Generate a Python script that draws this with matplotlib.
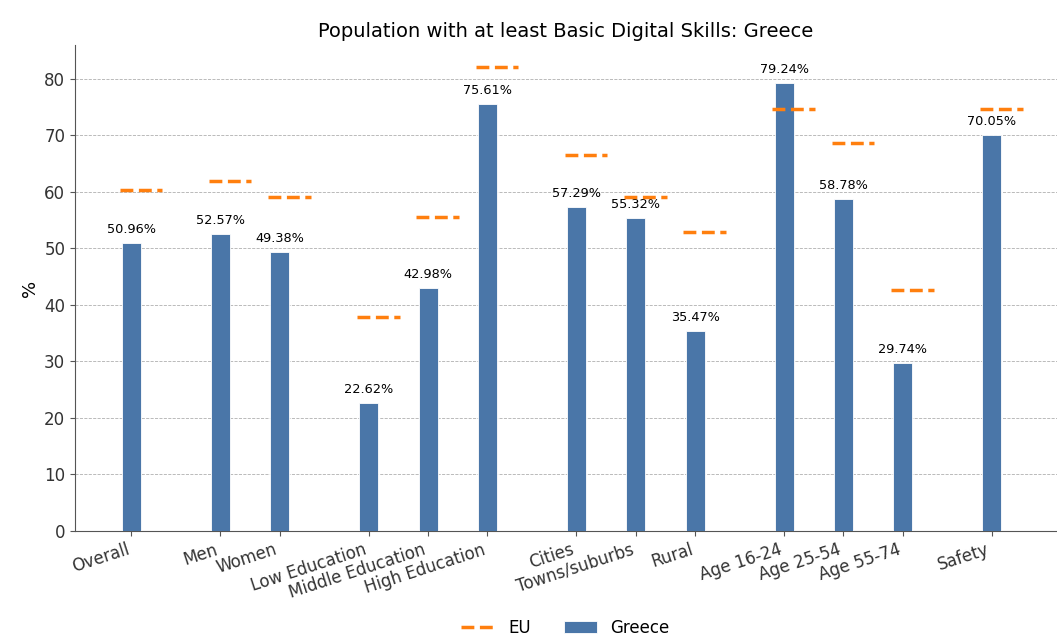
import matplotlib.pyplot as plt
import numpy as np

categories = ["Overall", "Men", "Women", "Low Education", "Middle Education",
              "High Education", "Cities", "Towns/suburbs", "Rural",
              "Age 16-24", "Age 25-54", "Age 55-74", "Safety"]
greece = [50.96, 52.57, 49.38, 22.62, 42.98, 75.61, 57.29, 55.32, 35.47,
          79.24, 58.78, 29.74, 70.05]
eu = [60.4, 61.9, 59.1, 37.9, 55.5, 82.1, 66.5, 59.1, 52.9, 74.6, 68.6, 42.6, 74.6]
# groups: overall | sex | education | urbanisation | age | safety
groups = [0, 1, 1, 2, 2, 2, 3, 3, 3, 4, 4, 4, 5]

x = np.arange(len(categories)) + 0.5 * np.array(groups)

fig = plt.figure(figsize=(10.57, 6.36), dpi=100)
ax = fig.add_axes([75 / 1057, 105 / 636, 982 / 1057, 486 / 636])

ax.bar(x, greece, width=0.32, color="#4a76a8", edgecolor="white",
       linewidth=0.6, label="Greece", zorder=3)
ax.hlines(eu, x - 0.2, x + 0.52, colors="#ff7f0e", linestyles="--",
          linewidth=2.5, label="EU", zorder=4)

for xi, v in zip(x, greece):
    ax.annotate(f"{v:.2f}%", (xi, v), xytext=(0, 5), textcoords="offset points",
                ha="center", va="bottom", fontsize=9.3)

ax.set_xticks(x)
ax.set_xticklabels(categories, rotation=18, ha="right", fontsize=12)
ax.tick_params(labelcolor="#333333", color="#555555")
ax.tick_params(axis="y", labelsize=12)
ax.set_xlim(-0.95, 15.6)
ax.set_ylim(0, 86)
ax.set_yticks(range(0, 81, 10))
ax.set_ylabel("%", fontsize=13)
ax.set_title("Population with at least Basic Digital Skills: Greece", fontsize=14, pad=6)
ax.grid(axis="y", linestyle="--", linewidth=0.6, color="#b0b0b0", zorder=0)
ax.spines["top"].set_visible(False)
ax.spines["right"].set_visible(False)
ax.spines["left"].set_color("#555555")
ax.spines["bottom"].set_color("#555555")

handles, labels = ax.get_legend_handles_labels()
order = [labels.index("EU"), labels.index("Greece")]
fig.legend([handles[i] for i in order], [labels[i] for i in order],
           loc="lower center", ncol=2, frameon=False, fontsize=12,
           bbox_to_anchor=(0.535, -0.025))

fig.savefig("out.png", dpi=100)
